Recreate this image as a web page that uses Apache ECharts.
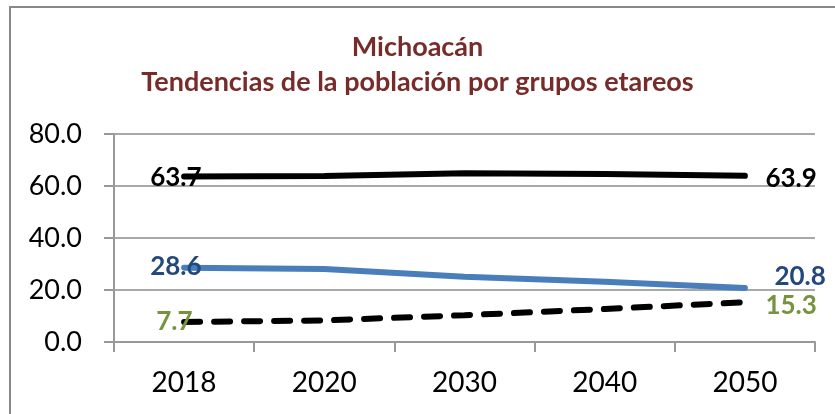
<!DOCTYPE html>
<html>
<head>
<meta charset="utf-8">
<script src="https://cdn.jsdelivr.net/npm/echarts@6/dist/echarts.min.js"></script>
<style>
  html, body { margin: 0; padding: 0; background: #fff; }
  #chart { width: 835px; height: 414px; }
</style>
</head>
<body>
<div id="chart"></div>
<script>
const years = ['2018', '2020', '2030', '2040', '2050'];
const adultos = [63.7, 63.8, 64.9, 64.6, 63.9];   // 15-64
const jovenes = [28.6, 28.1, 25.1, 23.2, 20.8];   // 0-14
const mayores = [7.7, 8.3, 10.3, 12.7, 15.3];     // 65+
const yTicks = [0, 20, 40, 60, 80];

const font = 'Lato, "Open Sans", sans-serif';

// only first and last point get a label
const withEnds = (arr, color, firstOff, lastOff) => arr.map((v, i) => {
  if (i === 0) return { value: v, label: { show: true, position: 'left', offset: firstOff, color } };
  if (i === arr.length - 1) return { value: v, label: { show: true, position: 'right', offset: lastOff, color } };
  return v;
});

const lbl = { show: false, fontFamily: font, fontWeight: 'bold', fontSize: 26, distance: 5, formatter: p => p.value.toFixed(1) };

const chart = echarts.init(document.getElementById('chart'));
chart.setOption({
  animation: false,
  title: {
    text: 'Michoacán\nTendencias de la población por grupos etareos',
    left: 'center',
    top: 25,
    textStyle: { color: '#772C2A', fontFamily: font, fontWeight: 'bold', fontSize: 27, lineHeight: 35 }
  },
  graphic: [{
    type: 'polyline',
    shape: { points: [[10, 420], [10, 7], [840, 7]] },
    style: { stroke: '#888', lineWidth: 2, fill: null }
  }],
  grid: { left: 114, right: 20, top: 134, bottom: 72 },
  xAxis: {
    type: 'category',
    data: years,
    boundaryGap: true,
    axisLine: { lineStyle: { color: '#999', width: 2 } },
    axisTick: { show: true, length: 10, lineStyle: { color: '#999', width: 2 } },
    axisLabel: { color: '#000', fontFamily: font, fontSize: 28, margin: 27 }
  },
  yAxis: {
    type: 'value',
    min: yTicks[0],
    max: yTicks[yTicks.length - 1],
    interval: 20,
    axisLine: { show: true, lineStyle: { color: '#999', width: 2 } },
    axisTick: { show: true, length: 10, lineStyle: { color: '#999', width: 2 } },
    splitLine: { lineStyle: { color: '#A8A8A8', width: 2 } },
    axisLabel: {
      color: '#000', fontFamily: font, fontSize: 27, margin: 32,
      formatter: v => v.toFixed(1)
    }
  },
  series: [
    {
      name: '15-64',
      type: 'line',
      data: withEnds(adultos, '#000', [23, 1], [15, 3]),
      showSymbol: true,
      symbol: 'circle',
      symbolSize: 1,
      itemStyle: { color: 'transparent' },
      lineStyle: { color: '#000', width: 6, cap: 'round' },
      label: lbl
    },
    {
      name: '0-14',
      type: 'line',
      data: withEnds(jovenes, '#23487A', [23, -1], [24, -11]),
      showSymbol: true,
      symbol: 'circle',
      symbolSize: 1,
      itemStyle: { color: 'transparent' },
      lineStyle: { color: '#4A7EBB', width: 6, cap: 'round' },
      label: lbl
    },
    {
      name: '65+',
      type: 'line',
      data: withEnds(mayores, '#77933C', [14, 0], [15, 3]),
      showSymbol: true,
      symbol: 'circle',
      symbolSize: 1,
      itemStyle: { color: 'transparent' },
      lineStyle: { color: '#000', width: 6, type: [16, 14], cap: 'round' },
      label: lbl
    }
  ]
});
</script>
</body>
</html>
